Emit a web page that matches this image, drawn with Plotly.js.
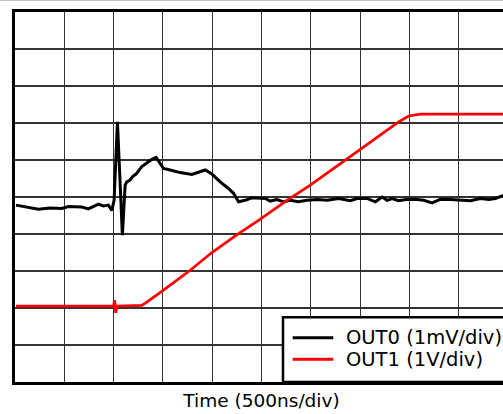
<!DOCTYPE html>
<html>
<head>
<meta charset="utf-8">
<script src="https://cdn.plot.ly/plotly-3.0.1.min.js"></script>
<style>
html,body{margin:0;padding:0;overflow:hidden;background:#fff;}
#chart{width:512px;height:414px;}
</style>
</head>
<body>
<div id="chart"></div>
<script>
// Time in ns (500 ns/div), values in screen divisions from the bottom
const out0Time = [10,119,237,355,474,541,677,744,846,896,947,982,1005,1039,1089,1117,1134,1167,1195,1228,1262,1286,1337,1388,1431,1472,1506,1574,1675,1794,1861,1929,1997,2081,2165,2216,2267,2335,2403,2470,2538,2589,2657,2724,2792,2876,2961,3063,3164,3282,3401,3469,3570,3655,3723,3774,3824,3891,3977,4078,4145,4230,4315,4416,4535,4619,4721,4805,4873,4941,5000];
const out0Div  = [4.78,4.73,4.67,4.70,4.69,4.74,4.73,4.68,4.81,4.76,4.78,4.64,4.91,7.03,3.97,5.32,5.41,5.46,5.56,5.62,5.75,5.82,5.92,6.02,6.07,5.91,5.77,5.73,5.66,5.61,5.66,5.73,5.62,5.41,5.23,5.10,4.87,4.91,4.98,4.96,4.96,4.89,4.93,4.87,4.91,4.87,4.91,4.93,4.91,4.96,4.90,4.96,4.96,4.87,5.00,4.91,4.96,4.90,4.94,4.93,4.91,4.84,4.94,4.93,4.91,4.90,4.96,4.93,4.96,5.03,5.05];
const out1Time = [10,1000,1010,1022,1034,1286,1337,1506,1777,1997,2267,2470,2758,2995,3502,3891,3993,4112,4551,5000];
const out1Div  = [2.05,2.05,2.21,1.87,2.05,2.07,2.16,2.48,3.02,3.50,4.01,4.37,4.91,5.32,6.29,7.03,7.19,7.24,7.24,7.24];
const seriesNames = ['OUT0 (1mV/div)','OUT1 (1V/div)'];
const seriesColors = ['#000000','#ff0000'];
const xTitle = 'Time (500ns/div)';

const FONT = 'DejaVu Sans, Arial, sans-serif';
const traces = [
  {x: out0Time, y: out0Div, name: seriesNames[0], mode: 'lines', type: 'scatter',
   line: {color: seriesColors[0], width: 3}},
  {x: out1Time, y: out1Div, name: seriesNames[1], mode: 'lines', type: 'scatter',
   line: {color: seriesColors[1], width: 2.8}}
];

// legend box drawn in paper coordinates
const legRows = [0.1197, 0.0614];
const shapes = [
  {type: 'line', xref: 'paper', yref: 'paper', x0: -0.1, x1: 1.1, y0: 1.031, y1: 1.031,
   line: {color: '#c0c0c0', width: 1}},
  {type: 'rect', xref: 'paper', yref: 'paper', layer: 'above', x0: 0.5436, x1: 1.06, y0: 0, y1: 0.1749,
   fillcolor: '#ffffff', line: {color: '#000', width: 2.5}}
];
const annotations = [];
seriesNames.forEach((n, i) => {
  shapes.push({type: 'line', xref: 'paper', yref: 'paper', layer: 'above',
    x0: 0.5633, x1: 0.6456, y0: legRows[i], y1: legRows[i],
    line: {color: seriesColors[i], width: 3}});
  annotations.push({xref: 'paper', yref: 'paper', x: 0.6674, y: legRows[i],
    xanchor: 'left', yanchor: 'middle', showarrow: false, text: n,
    font: {family: FONT, size: 19.5, color: '#000'}});
});

const layout = {
  width: 512, height: 414,
  margin: {l: 15, r: 4, t: 12, b: 32},
  paper_bgcolor: '#fff', plot_bgcolor: '#fff',
  font: {family: FONT, color: '#000'},
  showlegend: false,
  xaxis: {range: [0, 5000], dtick: 500, tick0: 0, showgrid: true, gridcolor: '#333', gridwidth: 1.1,
          zeroline: false, showticklabels: false, ticks: '',
          showline: true, mirror: true, linecolor: '#000', linewidth: 3,
          title: {text: xTitle, font: {family: FONT, size: 18.5, color: '#000'}, standoff: 11}},
  yaxis: {range: [0, 10], dtick: 1, tick0: 0, showgrid: true, gridcolor: '#333', gridwidth: 1.1,
          zeroline: false, showticklabels: false, ticks: '',
          showline: true, mirror: true, linecolor: '#000', linewidth: 3},
  shapes: shapes,
  annotations: annotations
};
Plotly.newPlot('chart', traces, layout, {displayModeBar: false, staticPlot: true});
</script>
</body>
</html>
